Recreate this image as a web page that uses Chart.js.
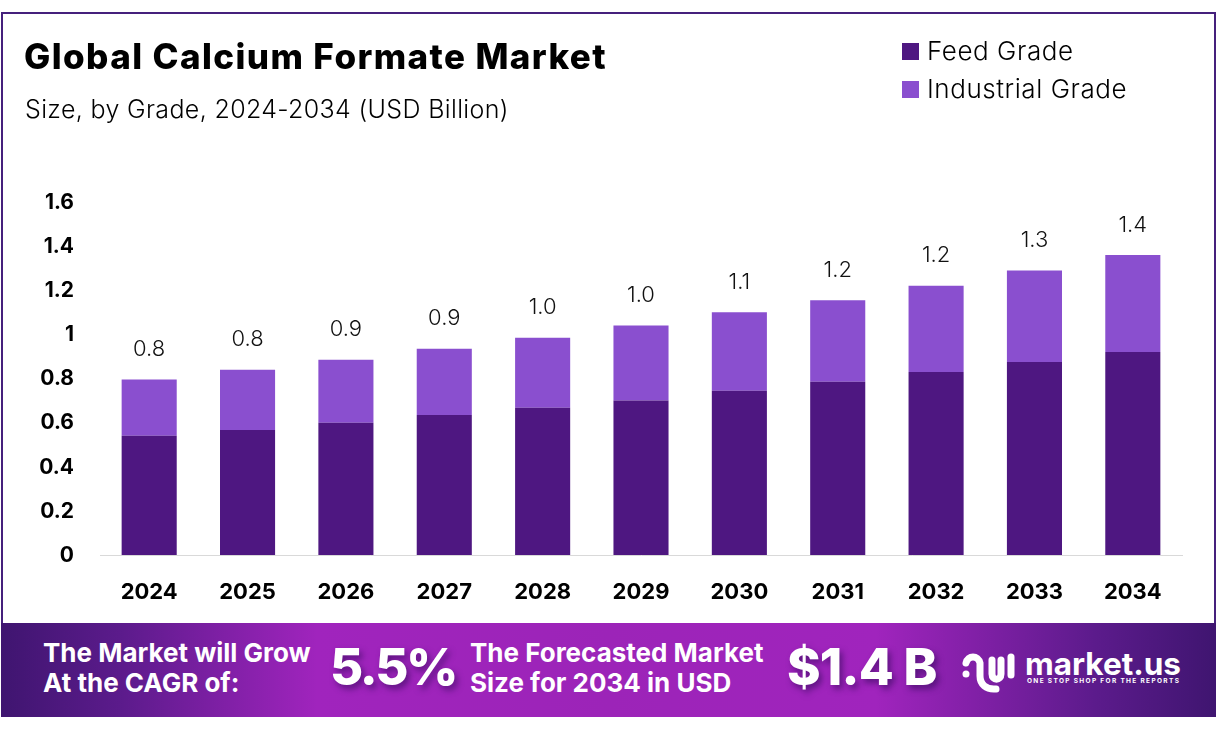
<!DOCTYPE html>
<html>
<head>
<meta charset="utf-8">
<title>Global Calcium Formate Market</title>
<script src="https://cdn.jsdelivr.net/npm/chart.js@4"></script>
<style>
    html, body { margin: 0; padding: 0; background: #fff; }
    body { width: 1216px; height: 733px; overflow: hidden; position: relative; font-family: Inter, sans-serif; color: #000; }
    #frame { position: absolute; left: 1px; top: 12px; width: 1211px; height: 620px; border: 2px solid #45207c; }
    #chartBox { position: absolute; left: 0; top: 0; width: 1216px; height: 733px; }
    .txt { position: absolute; white-space: nowrap; }
    #title { left: 24px; top: 35px; font-size: 35px; font-weight: 800; letter-spacing: 1.4px; }
    #subtitle { left: 25px; top: 94px; font-size: 25px; font-weight: 300; letter-spacing: 0.35px; }
    .key { position: absolute; left: 902px; width: 17px; height: 17px; }
    .keyText { left: 927px; font-size: 26px; font-weight: 300; letter-spacing: 0.55px; }
    #banner { position: absolute; left: 1px; top: 623px; width: 1215px; height: 94px; color: #fff;
        background: linear-gradient(90deg, #3f1570 0%, #5c1b8c 10%, #a024bd 26%, #9c24b8 50%, #a024bd 72%, #5c1b8c 90%, #3f1570 100%); }
    .bannerTxt { position: absolute; white-space: nowrap; font-weight: 700; font-size: 26px; line-height: 30px; }
    .big { position: absolute; white-space: nowrap; font-weight: 800; font-size: 51px; text-shadow: 3px 4px 6px rgba(50, 10, 90, 0.6); }
    #logoName { position: absolute; left: 1025px; top: 644px; color: #fff; font-size: 31.5px; font-weight: 700; }
    #logoTag { position: absolute; left: 1027px; top: 677px; color: #fff; font-size: 6.5px; font-weight: 700; letter-spacing: 1.35px; white-space: nowrap; }
    #logoIcon { position: absolute; left: 960px; top: 650px; }
</style>
</head>
<body>
<div id="frame"></div>
<div id="chartBox"><canvas id="marketChart" width="1216" height="733"></canvas></div>

<div class="txt" id="title">Global Calcium Formate Market</div>
<div class="txt" id="subtitle">Size, by Grade, 2024-2034 (USD Billion)</div>

<div class="key" id="key0" style="top:43px"></div>
<div class="txt keyText" id="keyText0" style="top:35px"></div>
<div class="key" id="key1" style="top:81px"></div>
<div class="txt keyText" id="keyText1" style="top:73px"></div>

<div id="banner"></div>
<div class="bannerTxt" style="left:43px;top:638px;color:#fff">The Market will Grow<br>At the CAGR of:</div>
<div class="big" style="left:330px;top:636px;color:#fff;letter-spacing:-2.4px">5.5%</div>
<div class="bannerTxt" style="left:470px;top:638px;color:#fff">The Forecasted Market<br>Size for 2034 in USD</div>
<div class="big" style="left:787px;top:636px;color:#fff;letter-spacing:-0.8px">$1.4 B</div>
<svg id="logoIcon" width="56" height="46" viewBox="0 0 56 46" fill="none" stroke="#fff" stroke-width="7" stroke-linecap="round">
    <circle cx="6" cy="24" r="3.5" fill="#fff" stroke="none"/>
    <path d="M6 13 C8 5 18 5 20 13 L20 26 C20 34 26 40 36 39"/>
    <path d="M32 10 L32 24 C32 31 41 31 41 24 L41 10"/>
    <path d="M51 7 L51 25"/>
</svg>
<div id="logoName">market.us</div>
<div id="logoTag">ONE STOP SHOP FOR THE REPORTS</div>

<script>
const years = ['2024', '2025', '2026', '2027', '2028', '2029', '2030', '2031', '2032', '2033', '2034'];
const feedGrade = [0.54, 0.567, 0.60, 0.635, 0.667, 0.70, 0.745, 0.785, 0.83, 0.875, 0.92];
const industrialGrade = [0.255, 0.273, 0.285, 0.30, 0.318, 0.34, 0.355, 0.37, 0.39, 0.415, 0.44];
const totalLabels = ['0.8', '0.8', '0.9', '0.9', '1.0', '1.0', '1.1', '1.2', '1.2', '1.3', '1.4'];
const yTicks = ['0', '0.2', '0.4', '0.6', '0.8', '1', '1.2', '1.4', '1.6'];
const seriesNames = ['Feed Grade', 'Industrial Grade'];
const seriesColors = ['#4e1781', '#8a4fcf'];

// legend sits in the page, not in the canvas
seriesNames.forEach(function (name, i) {
    document.getElementById('key' + i).style.background = seriesColors[i];
    document.getElementById('keyText' + i).textContent = name;
});

// totals above the stacks
const totalsPlugin = {
    id: 'totals',
    afterDatasetsDraw(chart) {
        const ctx = chart.ctx;
        const top = chart.getDatasetMeta(1).data;
        ctx.save();
        ctx.font = '300 22px Inter';
        ctx.fillStyle = '#111';
        ctx.textAlign = 'center';
        ctx.textBaseline = 'middle';
        top.forEach(function (bar, i) {
            ctx.fillText(totalLabels[i], bar.x, bar.y - 30);
        });
        ctx.restore();
    }
};

new Chart(document.getElementById('marketChart').getContext('2d'), {
    type: 'bar',
    data: {
        labels: years,
        datasets: [{
            label: seriesNames[0],
            data: feedGrade,
            backgroundColor: seriesColors[0]
        }, {
            label: seriesNames[1],
            data: industrialGrade,
            backgroundColor: seriesColors[1]
        }]
    },
    options: {
        responsive: false,
        animation: false,
        datasets: { bar: { categoryPercentage: 1, barPercentage: 0.56 } },
        layout: { padding: { left: 0, right: 34, top: 202, bottom: 128 } },
        plugins: { legend: { display: false }, tooltip: { enabled: false } },
        scales: {
            x: {
                stacked: true,
                grid: { display: false },
                border: { color: '#d9d9d9', width: 1 },
                ticks: { color: '#000', padding: 16, maxRotation: 0, font: { family: 'Inter', size: 22, weight: '700' } },
                afterFit(scale) { scale.height = 50; }
            },
            y: {
                stacked: true,
                min: 0,
                max: 1.6,
                grid: { display: false, drawTicks: false },
                border: { display: false },
                ticks: {
                    stepSize: 0.2,
                    color: '#000',
                    padding: 26,
                    labelOffset: 0.5,
                    font: { family: 'Inter', size: 21, weight: '700' },
                    callback: function (value, index) { return yTicks[index]; }
                },
                afterFit(scale) { scale.width = 100; }
            }
        }
    },
    plugins: [totalsPlugin]
});
</script>
</body>
</html>
